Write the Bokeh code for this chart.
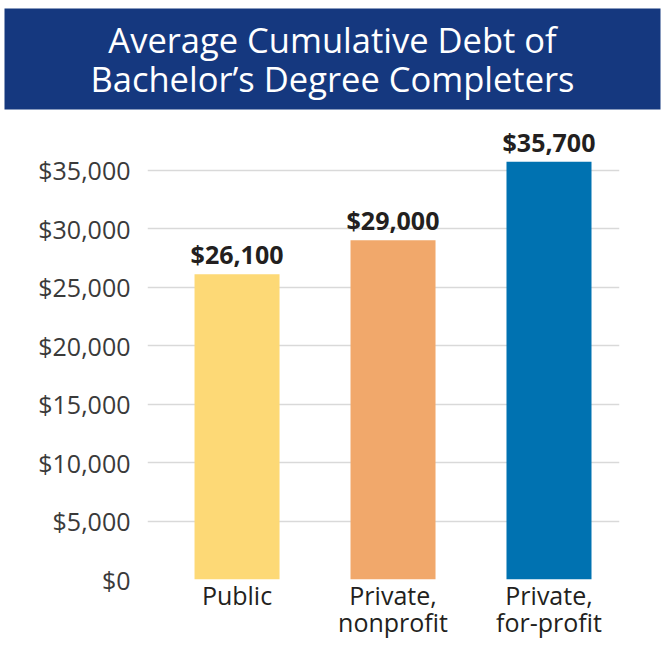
from bokeh.plotting import figure
from bokeh.models import Range1d, FixedTicker, NumeralTickFormatter, ColumnDataSource, LinearAxis
from bokeh.layouts import column
from bokeh.core.properties import value
from bokeh.embed import file_html
from bokeh.resources import INLINE

# ---- data ----
categories = ["Public", "Private,\nnonprofit", "Private,\nfor-profit"]
debt = [26100, 29000, 35700]
debt_labels = ["$26,100", "$29,000", "$35,700"]
bar_colors = ["#FDD976", "#F1A86B", "#0072B1"]
y_ticks = [0, 5000, 10000, 15000, 20000, 25000, 30000, 35000]
title_lines = ["Average Cumulative Debt of", "Bachelor\u2019s Degree Completers"]

FONT = "Open Sans"
BANNER = "#15387F"

# ---- banner ----
b = figure(width=662, height=110, output_backend="svg", toolbar_location=None,
           x_range=Range1d(4, 660), y_range=Range1d(109, 8),
           x_axis_location=None, y_axis_location=None, title=None,
           min_border_left=4, min_border_right=2, min_border_top=8, min_border_bottom=1)
b.frame_align = False
b.background_fill_color = BANNER
b.border_fill_color = "white"
b.outline_line_color = None
b.grid.visible = False
b.text(x=[332, 332], y=[39, 78], text=title_lines, text_font=value(FONT),
       text_font_size="34.5px", text_color="white", text_align="center",
       text_baseline="alphabetic")

# ---- chart ----
idx = list(range(len(categories)))
src = ColumnDataSource(dict(x=idx, top=debt, color=bar_colors, label=debt_labels))

p = figure(width=662, height=539, output_backend="svg", toolbar_location=None, title=None,
           x_range=Range1d(-0.574, 2.452), y_range=Range1d(0, 40000),
           min_border_left=147, min_border_right=43, min_border_top=1, min_border_bottom=70)
p.frame_align = False
p.outline_line_color = None
p.background_fill_color = "white"
p.border_fill_color = "white"

p.vbar(x="x", top="top", width=0.545, fill_color="color", line_color=None, source=src)
p.text(x="x", y="top", text="label", source=src, text_font=value(FONT),
       text_font_size="25px", text_font_style="bold", text_color="#231F20",
       text_align="center", text_baseline="alphabetic", y_offset=-20)

p.xgrid.visible = False
p.ygrid.grid_line_color = "#D9D9D9"
p.ygrid.grid_line_width = 1.5

p.yaxis.ticker = FixedTicker(ticks=y_ticks)
p.yaxis.formatter = NumeralTickFormatter(format="$0,0")
p.yaxis.axis_line_color = None
p.yaxis.major_tick_line_color = None
p.yaxis.minor_tick_line_color = None
p.yaxis.major_tick_out = 0
p.yaxis.major_tick_in = 0
p.yaxis.major_label_standoff = 17
p.yaxis.major_label_text_font = FONT
p.yaxis.major_label_text_font_size = "25px"
p.yaxis.major_label_text_color = "#3A3A3A"

line1 = [c.split("\n")[0] for c in categories]
line2 = [c.split("\n")[1] if "\n" in c else "" for c in categories]

def style_x(ax, labels, standoff):
    ax.ticker = FixedTicker(ticks=idx)
    ax.major_label_overrides = {i: t for i, t in zip(idx, labels)}
    ax.axis_line_color = None
    ax.major_tick_line_color = None
    ax.minor_tick_line_color = None
    ax.major_tick_out = 0
    ax.major_tick_in = 0
    ax.major_label_standoff = standoff
    ax.major_label_text_font = FONT
    ax.major_label_text_font_size = "25px"
    ax.major_label_text_color = "#231F20"

style_x(p.xaxis[0], line1, -2)
ax2 = LinearAxis()
style_x(ax2, line2, -10)
p.add_layout(ax2, "below")

layout = column(b, p, spacing=0)
open("out.html", "w").write(file_html(layout, INLINE))
